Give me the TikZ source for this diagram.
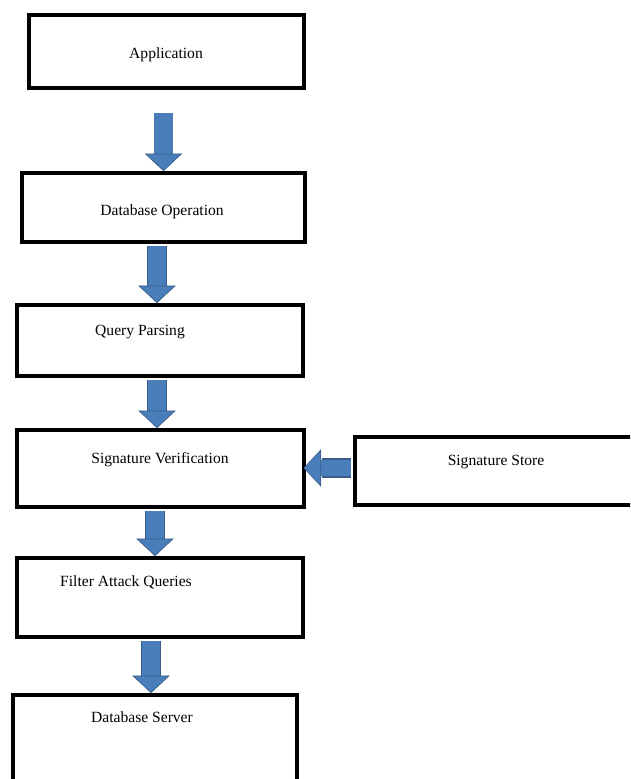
\documentclass[tikz,border=0pt]{standalone}
\usepackage{fontspec}
\setmainfont{Liberation Serif}
\usetikzlibrary{arrows.meta}
\definecolor{arrowblue}{HTML}{4A7EBB}
\definecolor{arrowedge}{HTML}{385D8A}
\tikzset{stage/.style = {shape=rectangle,draw,line width=3.2pt,inner sep=0pt}}
\tikzset{lbl/.style = {anchor=base,inner sep=0pt,font=\fontsize{13.3}{16}\selectfont}}
\tikzset{flow/.style = {line width=15.5pt,draw=arrowblue,shorten <=1.6pt,
    -{Triangle[width=32pt,length=15pt,line width=0.6pt,fill=arrowblue,color=arrowedge]},
    preaction={draw=arrowedge,line width=17pt,arrows=-,shorten <=1.6pt,shorten >=14pt}}}

\begin{document}
\begin{tikzpicture}[x=0.03cm,y=-0.03cm]
                \useasboundingbox (0,0) rectangle (630,779);
                \clip (0,0) rectangle (630,779);
                % boxes
                \node[stage,minimum width=8.25cm,minimum height=2.19cm] (app) at (166.5,51.5) {};
                \node[stage,minimum width=8.49cm,minimum height=2.07cm] (dbop) at (163.5,207.5) {};
                \node[stage,minimum width=8.58cm,minimum height=2.13cm] (parse) at (160,340.5) {};
                \node[stage,minimum width=8.61cm,minimum height=2.31cm] (verify) at (160.5,468.5) {};
                \node[stage,minimum width=8.55cm,minimum height=2.04cm] (store) at (497.5,471) {};
                \node[stage,minimum width=8.58cm,minimum height=2.37cm] (filter) at (160,597.5) {};
                \node[stage,minimum width=8.52cm,minimum height=2.85cm] (server) at (155,742.5) {};
                % labels
                \node[lbl] (appt) at (166,58) {Application};
                \node[lbl] (dbopt) at (162,215) {Database Operation};
                \node[lbl] (parset) at (140,335) {Query Parsing};
                \node[lbl] (verifyt) at (160,463) {Signature Verification};
                \node[lbl] (storet) at (496,465) {Signature Store};
                \node[lbl] (filtert) at (126,586) {Filter Attack Queries};
                \node[lbl] (servert) at (142,722) {Database Server};
                % arrows
                \coordinate (s1) at (163.5,113);
                \draw[flow,shorten <=0pt] (s1) -- (s1 |- dbop.north);
                \coordinate (x2) at (157,0);
                \draw[flow] (x2 |- dbop.south) -- (x2 |- parse.north);
                \draw[flow] (x2 |- parse.south) -- (x2 |- verify.north);
                \coordinate (x4) at (155,0);
                \draw[flow] (x4 |- verify.south) -- (x4 |- filter.north);
                \coordinate (x5) at (151,0);
                \draw[flow] (x5 |- filter.south) -- (x5 |- server.north);
                \coordinate (y6) at (0,468);
                \draw[flow,line width=13pt,shorten >=-2pt] (store.west |- y6) -- (verify.east |- y6);
            \end{tikzpicture}
\end{document}
